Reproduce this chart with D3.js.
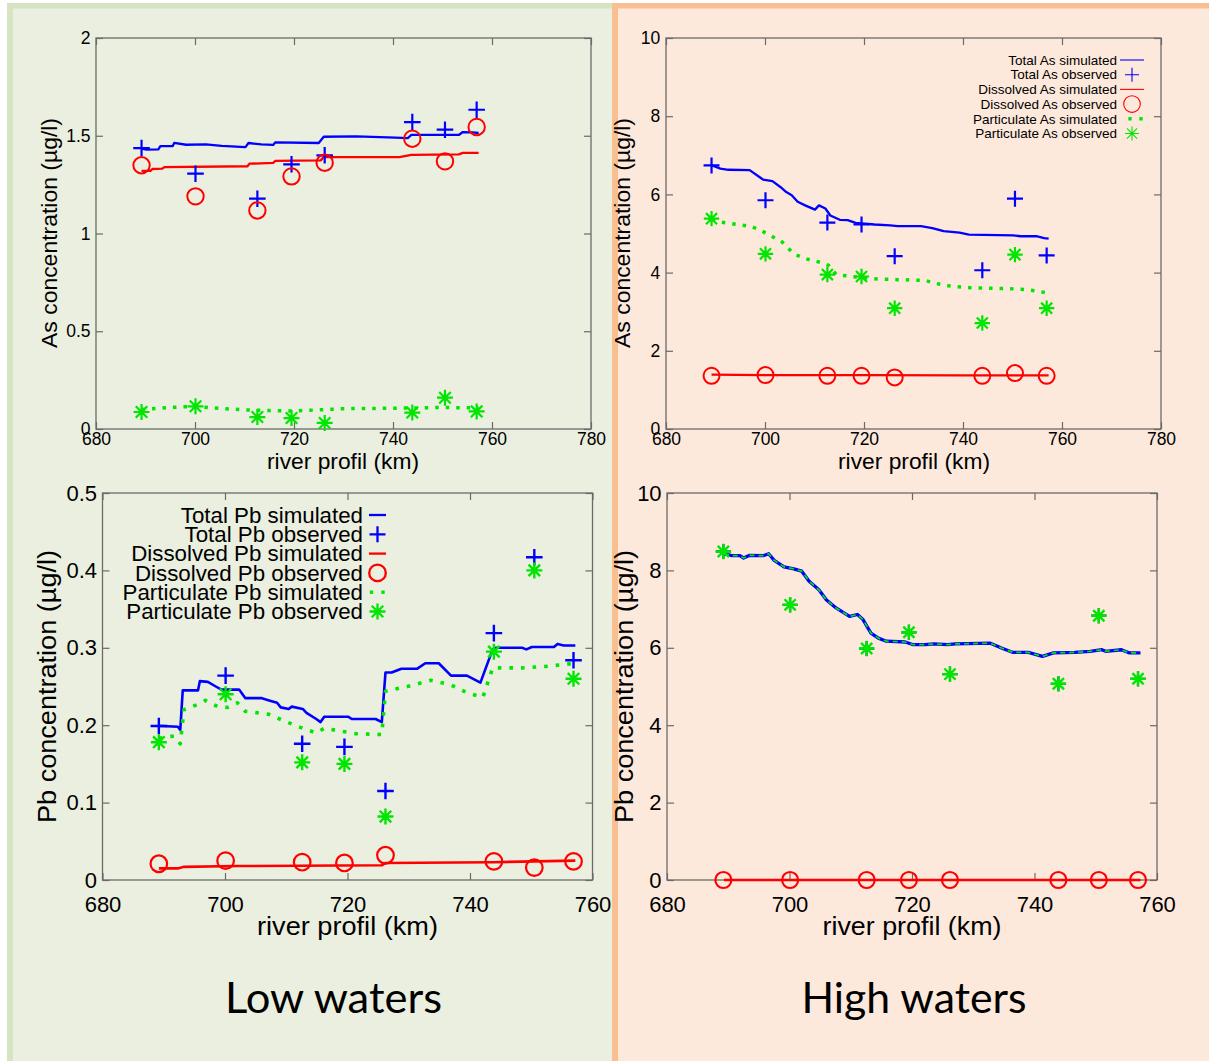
<!DOCTYPE html>
<html>
<head>
<meta charset="utf-8">
<script src="https://cdn.jsdelivr.net/npm/d3@7"></script>
<style>
  body { margin: 0; background: #fff; }
  svg { display: block; }
</style>
</head>
<body>
<div id="chart"></div>
<script>
// sampling stations along the river (km), shared by all four plots
const stationKm = [689.2, 700.1, 712.6, 719.5, 726.2, 743.9, 750.5, 756.9];

// tick values
const xTicksAs = [680, 700, 720, 740, 760, 780];
const xTicksPb = [680, 700, 720, 740, 760];
const yTicksAsLow = [0, 0.5, 1, 1.5, 2];
const yTicksAsHigh = [0, 2, 4, 6, 8, 10];
const yTicksPbLow = [0, 0.1, 0.2, 0.3, 0.4, 0.5];
const yTicksPbHigh = [0, 2, 4, 6, 8, 10];

// legend labels
const asLegendLabels = ["Total As simulated", "Total As observed", "Dissolved As simulated",
  "Dissolved As observed", "Particulate As simulated", "Particulate As observed"];
const pbLegendLabels = ["Total Pb simulated", "Total Pb observed", "Dissolved Pb simulated",
  "Dissolved Pb observed", "Particulate Pb simulated", "Particulate Pb observed"];
const panelTitles = ["Low waters", "High waters"];

// As - low waters
const asLowTotalObs = [1.437, 1.306, 1.178, 1.354, 1.40, 1.570, 1.531, 1.633];
const asLowDissObs = [1.349, 1.19, 1.118, 1.292, 1.362, 1.485, 1.369, 1.545];
const asLowPartObs = [0.087, 0.116, 0.061, 0.056, 0.031, 0.084, 0.160, 0.090];
const asLowTotalSim = [[689.2, 1.434], [690.2, 1.429], [692.6, 1.43], [693, 1.447], [695.5, 1.447], [695.8, 1.463],
  [698.2, 1.454], [702.2, 1.456], [705.4, 1.448], [710.2, 1.442], [710.8, 1.463], [713.4, 1.456], [715.8, 1.453],
  [716.2, 1.466], [725, 1.463], [726, 1.495], [732.6, 1.497], [735.8, 1.494], [740.5, 1.49], [743, 1.488],
  [743.7, 1.504], [753.3, 1.504], [754.1, 1.519], [756.1, 1.517], [757.3, 1.514]];
const asLowDissSim = [[689.2, 1.32], [691, 1.32], [691.4, 1.33], [693.4, 1.332], [693.8, 1.34], [710.6, 1.344],
  [711, 1.357], [715.8, 1.361], [716.2, 1.371], [725.4, 1.374], [726, 1.391], [741.3, 1.391], [743.7, 1.402],
  [753.3, 1.405], [754.1, 1.412], [757.3, 1.412]];
const asLowPartSim = [[689.2, 0.10], [695, 0.11], [700, 0.116], [705, 0.105], [710, 0.098], [715, 0.094],
  [720, 0.092], [725, 0.098], [730, 0.104], [740, 0.106], [745, 0.108], [750, 0.11], [757.3, 0.108]];

// As - high waters
const asHighTotalObs = [6.74, 5.85, 5.28, 5.23, 4.42, 4.06, 5.89, 4.44];
const asHighDissObs = [1.36, 1.38, 1.36, 1.36, 1.32, 1.36, 1.43, 1.36];
const asHighPartObs = [5.38, 4.48, 3.95, 3.90, 3.09, 2.71, 4.46, 3.09];
const asHighTotalSim = [[689.3, 6.74], [691, 6.66], [692.6, 6.63], [696.9, 6.62], [698.8, 6.45], [699.6, 6.38],
  [701.5, 6.34], [703.1, 6.19], [704.3, 6.06], [705.4, 5.98], [706.6, 5.81], [708.1, 5.72], [710.1, 5.61],
  [710.9, 5.72], [712.2, 5.64], [713.2, 5.46], [715.1, 5.35], [716.7, 5.34], [718.3, 5.27], [722.1, 5.23],
  [725.3, 5.21], [726.8, 5.19], [731.5, 5.19], [733.8, 5.14], [736.1, 5.06], [739.3, 5.02], [741.2, 4.97],
  [750.1, 4.95], [751.7, 4.93], [754.8, 4.93], [756.4, 4.88], [757.3, 4.87]];
const asHighDissSim = [[689.2, 1.39], [700, 1.38], [720, 1.38], [740, 1.37], [757.3, 1.37]];
const asHighPartSim = [[689.3, 5.38], [691, 5.29], [697.3, 5.18], [700.4, 5.0], [703.5, 4.78], [705.8, 4.48],
  [708.1, 4.36], [710.9, 4.27], [712.8, 4.19], [714.4, 3.95], [717.5, 3.9], [722.1, 3.84], [726.8, 3.82],
  [732.3, 3.80], [734.6, 3.72], [737.7, 3.65], [741.6, 3.61], [749.4, 3.59], [753.3, 3.56], [757.1, 3.48]];

// Pb - low waters
const pbLowTotalObs = [0.199, 0.264, 0.176, 0.172, 0.115, 0.319, 0.417, 0.284];
const pbLowDissObs = [0.021, 0.025, 0.023, 0.022, 0.032, 0.024, 0.016, 0.024];
const pbLowPartObs = [0.178, 0.240, 0.152, 0.150, 0.082, 0.295, 0.400, 0.260];
const pbLowTotalSim = [[689.2, 0.199], [689.7, 0.199], [692.3, 0.198], [692.7, 0.194], [693.1, 0.245], [695.6, 0.245],
  [695.9, 0.257], [697.2, 0.256], [698.5, 0.250], [699.4, 0.246], [702.3, 0.246], [703.3, 0.235], [705.9, 0.235],
  [707.2, 0.232], [708.5, 0.229], [709.1, 0.223], [710.4, 0.221], [710.9, 0.224], [712.7, 0.221], [713.3, 0.216],
  [714.9, 0.208], [715.6, 0.204], [716.2, 0.211], [720.1, 0.211], [720.7, 0.208], [724.6, 0.208], [725.6, 0.204],
  [726.2, 0.268], [727.2, 0.268], [728.8, 0.273], [731.4, 0.273], [732.7, 0.280], [734.9, 0.280], [736.9, 0.264],
  [739.5, 0.264], [741.7, 0.255], [743.7, 0.298], [744.3, 0.300], [748.5, 0.300], [749.2, 0.298], [750.1, 0.301],
  [753.7, 0.301], [754.3, 0.305], [755.3, 0.303], [757.2, 0.303]];
const pbLowDissSim = [[689.2, 0.015], [692.3, 0.015], [693.3, 0.017], [702, 0.018], [725.6, 0.019], [726.2, 0.022],
  [743.7, 0.023], [757.2, 0.025]];
const pbLowPartSim = [[689.2, 0.183], [691.7, 0.186], [692.7, 0.176], [693.3, 0.220], [695.6, 0.227], [696.8, 0.232],
  [698.8, 0.224], [700.4, 0.223], [702, 0.229], [703.3, 0.218], [707.2, 0.214], [709.8, 0.205], [712.7, 0.196],
  [714.9, 0.19], [716.2, 0.196], [721.4, 0.189], [725.6, 0.188], [726.2, 0.244], [729.8, 0.250], [733.6, 0.258],
  [736.9, 0.252], [739.5, 0.242], [742.1, 0.236], [743.7, 0.274], [748.5, 0.274], [752.4, 0.276], [757.2, 0.280]];

// Pb - high waters (total and particulate coincide, dissolved is ~0)
const pbHighTotalObs = [8.49, 7.11, 5.98, 6.40, 5.32, 5.07, 6.83, 5.20];
const pbHighDissObs = [0, 0, 0, 0, 0, 0, 0, 0];
const pbHighPartObs = [8.49, 7.11, 5.98, 6.40, 5.32, 5.07, 6.83, 5.20];
const pbHighTotalSim = [[689.3, 8.43], [690.6, 8.38], [691.9, 8.38], [692.5, 8.32], [693.5, 8.39], [695.7, 8.38],
  [696.6, 8.43], [697.5, 8.26], [699.1, 8.09], [700.7, 8.04], [702, 7.98], [703.2, 7.72], [704.8, 7.5], [706, 7.24],
  [707.6, 7.03], [709.8, 6.81], [711.1, 6.86], [712, 6.73], [713.3, 6.38], [714.5, 6.25], [715.8, 6.17],
  [718.9, 6.15], [720.2, 6.08], [722.1, 6.08], [723.6, 6.1], [725.8, 6.08], [727.1, 6.10], [732.8, 6.12],
  [734.7, 5.99], [736.5, 5.88], [739, 5.88], [741.3, 5.78], [743.1, 5.87], [746.6, 5.88], [749.1, 5.91],
  [751, 5.95], [751.6, 5.91], [754.2, 5.95], [755.4, 5.87], [757.3, 5.87]];
const pbHighPartSim = pbHighTotalSim;
const pbHighDissSim = [[689.3, 0], [757.3, 0]];

const BLUE = "#0000ff", RED = "#ff0000", GREEN = "#00e600", FRAME = "#6a6a6a";
const FONT = "'Liberation Sans', Arial, sans-serif";

const svg = d3.select("#chart").append("svg").attr("width", 1209).attr("height", 1061);

// two coloured background panels with their borders
svg.append("rect").attr("x", 0).attr("y", 0).attr("width", 1209).attr("height", 1061).attr("fill", "#fff");
svg.append("rect").attr("x", 7).attr("y", 3).attr("width", 605).attr("height", 1058).attr("fill", "#ebefdf");
svg.append("rect").attr("x", 7).attr("y", 3).attr("width", 605).attr("height", 5.5).attr("fill", "#d6e4c3");
svg.append("rect").attr("x", 7).attr("y", 3).attr("width", 6).attr("height", 1058).attr("fill", "#d6e4c3");
svg.append("rect").attr("x", 612).attr("y", 3).attr("width", 597).attr("height", 1058).attr("fill", "#fde9db");
svg.append("rect").attr("x", 612).attr("y", 3).attr("width", 597).attr("height", 5.5).attr("fill", "#f9bf90");
svg.append("rect").attr("x", 612).attr("y", 3).attr("width", 6).attr("height", 1058).attr("fill", "#f9bf90");

function markerPath(type, h) {
  const d = h * 0.72;
  if (type === "plus") return `M${-h},0H${h}M0,${-h}V${h}`;
  return `M${-h},0H${h}M0,${-h}V${h}M${-d},${-d}L${d},${d}M${-d},${d}L${d},${-d}`;
}

function drawMarker(g, type, cx, cy, size, color, sw) {
  if (type === "circle") {
    g.append("circle").attr("cx", cx).attr("cy", cy).attr("r", size)
      .attr("fill", "none").attr("stroke", color).attr("stroke-width", sw);
  } else {
    g.append("path").attr("transform", `translate(${cx},${cy})`).attr("d", markerPath(type, size))
      .attr("fill", "none").attr("stroke", color).attr("stroke-width", sw);
  }
}

const panels = [
  {
    box: { left: 96, right: 591, top: 38, bottom: 429 },
    xDomain: [680, 780], yDomain: [0, 2], xTicks: xTicksAs, yTicks: yTicksAsLow,
    tickFont: 17.5, xPad: 4, yPad: 5.5,
    yLabel: "As concentration (µg/l)", yLab: { x: 57, y: 233, len: 230, size: 22 },
    xLab: { x: 343, y: 469, len: 152, size: 22 },
    sims: [
      { data: asLowTotalSim, color: BLUE, width: 2.3 },
      { data: asLowDissSim, color: RED, width: 2.3 },
      { data: asLowPartSim, color: GREEN, width: 3.5, dash: "3.5 7" }
    ],
    obs: [
      { data: asLowTotalObs, type: "plus", color: BLUE, size: 8.3, sw: 2.2 },
      { data: asLowDissObs, type: "circle", color: RED, size: 8.2, sw: 2 },
      { data: asLowPartObs, type: "star", color: GREEN, size: 8, sw: 2.2 }
    ]
  },
  {
    box: { left: 666, right: 1161, top: 38, bottom: 429 },
    xDomain: [680, 780], yDomain: [0, 10], xTicks: xTicksAs, yTicks: yTicksAsHigh,
    tickFont: 17.5, xPad: 4, yPad: 5.8,
    yLabel: "As concentration (µg/l)", yLab: { x: 629.5, y: 233, len: 230, size: 22 },
    xLab: { x: 914, y: 469, len: 152, size: 22 },
    sims: [
      { data: asHighTotalSim, color: BLUE, width: 2.3 },
      { data: asHighDissSim, color: RED, width: 2.3 },
      { data: asHighPartSim, color: GREEN, width: 3.5, dash: "3.5 7" }
    ],
    obs: [
      { data: asHighTotalObs, type: "plus", color: BLUE, size: 8, sw: 2.2 },
      { data: asHighDissObs, type: "circle", color: RED, size: 8, sw: 2 },
      { data: asHighPartObs, type: "star", color: GREEN, size: 7.7, sw: 2.2 }
    ],
    legend: {
      labels: asLegendLabels, textX: 1117, sampleX: 1132, y0: 60, dy: 14.7, size: 13.5, base: 4.7,
      lineHalf: 12, mk: 7, circ: 8.3, sw: 1.1, dots: [-2, 9]
    }
  },
  {
    box: { left: 102.5, right: 592.5, top: 493, bottom: 880 },
    xDomain: [680, 760], yDomain: [0, 0.5], xTicks: xTicksPb, yTicks: yTicksPbLow,
    tickFont: 22, xPad: 16, yPad: 5.5,
    yLabel: "Pb concentration (µg/l)", yLab: { x: 56, y: 686.5, len: 273, size: 25 },
    xLab: { x: 347.5, y: 935, len: 181, size: 25 },
    sims: [
      { data: pbLowTotalSim, color: BLUE, width: 2.6 },
      { data: pbLowDissSim, color: RED, width: 2.6 },
      { data: pbLowPartSim, color: GREEN, width: 3.6, dash: "3.6 8" }
    ],
    obs: [
      { data: pbLowTotalObs, type: "plus", color: BLUE, size: 8.3, sw: 2.4 },
      { data: pbLowDissObs, type: "circle", color: RED, size: 8.3, sw: 2.2 },
      { data: pbLowPartObs, type: "star", color: GREEN, size: 8, sw: 2.4 }
    ],
    legend: {
      labels: pbLegendLabels, textX: 363, sampleX: 377.5, y0: 515, dy: 19.3, size: 22.3, base: 7.8,
      lineHalf: 8.5, mk: 8, circ: 8.3, sw: 2.3, dots: [-6, 5.5]
    }
  },
  {
    box: { left: 667, right: 1157, top: 493, bottom: 880 },
    xDomain: [680, 760], yDomain: [0, 10], xTicks: xTicksPb, yTicks: yTicksPbHigh,
    tickFont: 22, xPad: 16, yPad: 5.4,
    yLabel: "Pb concentration (µg/l)", yLab: { x: 632.5, y: 686.5, len: 273, size: 25 },
    xLab: { x: 912, y: 935, len: 179, size: 25 },
    sims: [
      { data: pbHighTotalSim, color: BLUE, width: 3.3 },
      { data: pbHighDissSim, color: RED, width: 2.6 },
      { data: pbHighPartSim, color: GREEN, width: 1.7, dash: "5 4" }
    ],
    obs: [
      { data: pbHighTotalObs, type: "plus", color: BLUE, size: 7.5, sw: 2.2 },
      { data: pbHighDissObs, type: "circle", color: RED, size: 8, sw: 2.2 },
      { data: pbHighPartObs, type: "star", color: GREEN, size: 7.8, sw: 2.4 }
    ]
  }
];

panels.forEach(p => {
  const b = p.box;
  const x = d3.scaleLinear().domain(p.xDomain).range([b.left, b.right]);
  const y = d3.scaleLinear().domain(p.yDomain).range([b.bottom, b.top]);
  const g = svg.append("g");
  const fmt = d => String(d);

  g.append("rect").attr("x", b.left).attr("y", b.top)
    .attr("width", b.right - b.left).attr("height", b.bottom - b.top)
    .attr("fill", "none").attr("stroke", FRAME).attr("stroke-width", 1.3);

  // inner ticks on all four sides, labels bottom/left only
  const axes = [
    [d3.axisBottom(x).tickValues(p.xTicks).tickPadding(p.xPad).tickFormat(fmt), `translate(0,${b.bottom})`],
    [d3.axisTop(x).tickValues(p.xTicks).tickFormat(""), `translate(0,${b.top})`],
    [d3.axisLeft(y).tickValues(p.yTicks).tickPadding(p.yPad).tickFormat(fmt), `translate(${b.left},0)`],
    [d3.axisRight(y).tickValues(p.yTicks).tickFormat(""), `translate(${b.right},0)`]
  ];
  axes.forEach(([axis, tr]) => {
    const a = g.append("g").attr("transform", tr).call(axis.tickSize(-7));
    a.select(".domain").remove();
    a.selectAll("line").attr("stroke", FRAME).attr("stroke-width", 1.2);
    a.selectAll("text").attr("fill", "#000").style("font-family", FONT).style("font-size", p.tickFont + "px");
  });

  g.append("text").attr("x", p.xLab.x).attr("y", p.xLab.y).attr("text-anchor", "middle")
    .attr("textLength", p.xLab.len).attr("lengthAdjust", "spacingAndGlyphs")
    .style("font-family", FONT).style("font-size", p.xLab.size + "px").text("river profil (km)");
  g.append("text").attr("transform", `translate(${p.yLab.x},${p.yLab.y}) rotate(-90)`).attr("text-anchor", "middle")
    .attr("textLength", p.yLab.len).attr("lengthAdjust", "spacingAndGlyphs")
    .style("font-family", FONT).style("font-size", p.yLab.size + "px").text(p.yLabel);

  const line = d3.line().x(d => x(d[0])).y(d => y(d[1]));
  p.sims.forEach(s => {
    g.append("path").datum(s.data).attr("d", line).attr("fill", "none")
      .attr("stroke", s.color).attr("stroke-width", s.width)
      .attr("stroke-dasharray", s.dash || null).attr("stroke-linejoin", "round");
  });
  p.obs.forEach(o => {
    o.data.forEach((v, i) => drawMarker(g, o.type, x(stationKm[i]), y(v), o.size, o.color, o.sw));
  });

  if (p.legend) {
    const L = p.legend;
    const colors = [BLUE, BLUE, RED, RED, GREEN, GREEN];
    L.labels.forEach((lab, i) => {
      const cy = L.y0 + i * L.dy;
      g.append("text").attr("x", L.textX).attr("y", cy + L.base).attr("text-anchor", "end")
        .style("font-family", FONT).style("font-size", L.size + "px").text(lab);
      const c = colors[i];
      if (i === 0 || i === 2) {
        g.append("line").attr("x1", L.sampleX - L.lineHalf).attr("x2", L.sampleX + L.lineHalf)
          .attr("y1", cy).attr("y2", cy).attr("stroke", c).attr("stroke-width", L.sw);
      } else if (i === 1) drawMarker(g, "plus", L.sampleX, cy, L.mk, c, L.sw);
      else if (i === 3) drawMarker(g, "circle", L.sampleX, cy, L.circ, c, L.sw);
      else if (i === 4) {
        L.dots.forEach(dx => g.append("rect").attr("x", L.sampleX + dx - 1.7).attr("y", cy - 1.7)
          .attr("width", 3.4).attr("height", 3.4).attr("fill", c));
      } else drawMarker(g, "star", L.sampleX, cy, L.mk, c, L.sw);
    });
  }
});

// panel captions
[[333.5, 217], [914, 225]].forEach(([cx, len], i) => {
  svg.append("text").attr("x", cx).attr("y", 1013).attr("text-anchor", "middle")
    .attr("textLength", len).attr("lengthAdjust", "spacingAndGlyphs")
    .style("font-family", "Lato, 'Open Sans', sans-serif").style("font-size", "42px").text(panelTitles[i]);
});
</script>
</body>
</html>
